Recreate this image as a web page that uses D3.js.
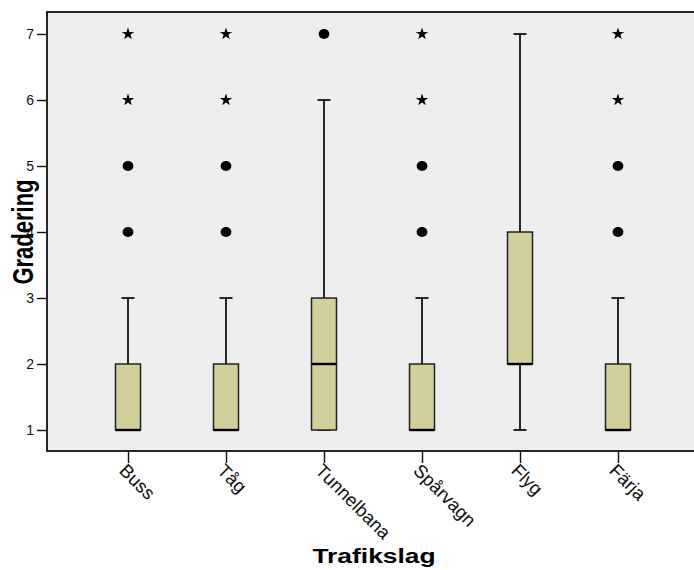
<!DOCTYPE html>
<html><head><meta charset="utf-8">
<script src="https://cdn.jsdelivr.net/npm/d3@7"></script>
<style>body{margin:0;background:#fff}svg{display:block}</style>
</head><body>
<script>
const categories = ["Buss","Tåg","Tunnelbana","Spårvagn","Flyg","Färja"];
const q1 = [1,1,1,1,2,1];
const median = [1,1,2,1,2,1];
const q3 = [2,2,3,2,4,2];
const whiskerLow = [1,1,1,1,1,1];
const whiskerHigh = [3,3,6,3,7,3];
const outliers = [[4,5],[4,5],[7],[4,5],[],[4,5]];
const extremes = [[6,7],[6,7],[],[6,7],[],[6,7]];
const yTicks = [1,2,3,4,5,6,7];
const xTitle = "Trafikslag";
const yTitle = "Gradering";

const W = 694, H = 570;
const plot = {left:47, top:12, right:700, bottom:451};
const svg = d3.select("body").append("svg").attr("width",W).attr("height",H);

const y = d3.scaleLinear().domain([1,7]).range([430,34]);
const x = d3.scalePoint().domain(categories).range([128,618]);

svg.append("rect").attr("x",plot.left).attr("y",plot.top)
  .attr("width",plot.right-plot.left).attr("height",plot.bottom-plot.top)
  .attr("fill","#eeeeee").attr("stroke","#111").attr("stroke-width",1.8);

// y axis
const ya = svg.append("g").attr("transform",`translate(${plot.left},0)`)
  .call(d3.axisLeft(y).tickValues(yTicks).tickFormat(d3.format("d")).tickSize(10).tickPadding(3));
ya.select(".domain").remove();
ya.selectAll("line").attr("stroke","#111").attr("stroke-width",1.4);
ya.selectAll("text").attr("font-family","Liberation Sans, Arial, sans-serif").attr("font-size",14).attr("fill","#111");

// x axis
const xa = svg.append("g").attr("transform",`translate(0,${plot.bottom})`)
  .call(d3.axisBottom(x).tickSize(12).tickPadding(0));
xa.select(".domain").remove();
xa.selectAll("line").attr("stroke","#111").attr("stroke-width",1.4);
xa.selectAll("text")
  .attr("font-family","Liberation Sans, Arial, sans-serif").attr("font-size",18.5).attr("fill","#111")
  .attr("text-anchor","start").attr("dy","0.72em")
  .attr("transform","translate(0,12) rotate(45)")
  .attr("y",0).attr("x",-1);

const bw = 25, cw = 13;
const g = svg.append("g");
categories.forEach((c,i)=>{
  const cx = x(c);
  g.append("line").attr("x1",cx).attr("x2",cx).attr("y1",y(q3[i])).attr("y2",y(whiskerHigh[i]))
    .attr("stroke","#111").attr("stroke-width",1.8);
  g.append("line").attr("x1",cx).attr("x2",cx).attr("y1",y(q1[i])).attr("y2",y(whiskerLow[i]))
    .attr("stroke","#111").attr("stroke-width",1.8);
  [whiskerHigh[i], whiskerLow[i]].forEach(v=>{
    g.append("line").attr("x1",cx-cw/2).attr("x2",cx+cw/2).attr("y1",y(v)).attr("y2",y(v))
      .attr("stroke","#111").attr("stroke-width",1.8);
  });
  g.append("rect").attr("x",cx-bw/2).attr("y",y(q3[i])).attr("width",bw).attr("height",y(q1[i])-y(q3[i]))
    .attr("fill","#d3cf9b").attr("stroke","#222").attr("stroke-width",1.5);
  g.append("line").attr("x1",cx-bw/2).attr("x2",cx+bw/2).attr("y1",y(median[i])).attr("y2",y(median[i]))
    .attr("stroke","#000").attr("stroke-width",2.4);
  outliers[i].forEach(v=>{
    g.append("ellipse").attr("cx",cx).attr("cy",y(v)).attr("rx",5.4).attr("ry",5).attr("fill","#000");
  });
  extremes[i].forEach(v=>{
    g.append("path").attr("d",d3.symbol(d3.symbolStar,48)()).attr("transform",`translate(${cx},${y(v)})`)
      .attr("fill","#000");
  });
});

// titles
svg.append("text").attr("transform",`translate(374,563) scale(1.32,1)`)
  .attr("text-anchor","middle").attr("font-family","Liberation Sans, Arial, sans-serif")
  .attr("font-weight","bold").attr("font-size",20).attr("fill","#000").text(xTitle);
svg.append("text").attr("transform",`translate(33,232) scale(1.37,1) rotate(-90)`)
  .attr("text-anchor","middle").attr("font-family","Liberation Sans, Arial, sans-serif")
  .attr("font-weight","bold").attr("font-size",22).attr("fill","#000").text(yTitle);
</script>
</body></html>
